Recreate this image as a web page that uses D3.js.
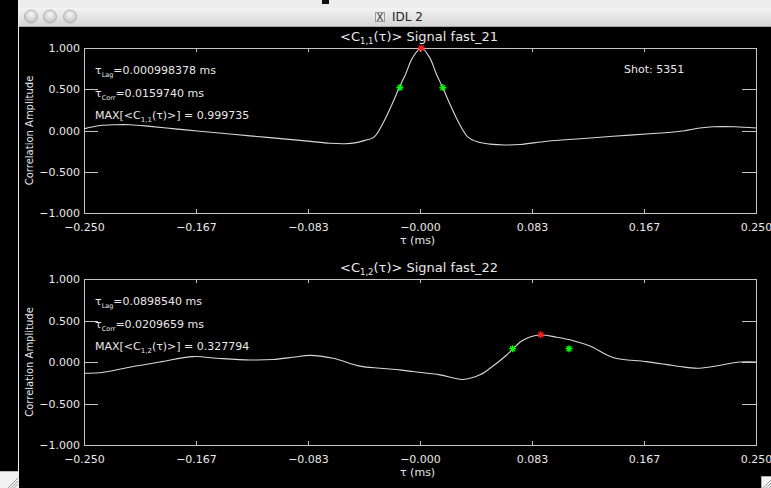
<!DOCTYPE html>
<html><head><meta charset="utf-8">
<script src="https://cdn.jsdelivr.net/npm/d3@7"></script>
<style>
html,body{margin:0;padding:0;background:#000;overflow:hidden}
svg{display:block}
text{font-family:"DejaVu Sans",sans-serif}
</style></head><body>
<svg id="c" width="771" height="488"></svg>
<script>
// ---------- data ----------
const tauTop = [-0.2500,-0.2381,-0.2269,-0.2158,-0.2009,-0.1823,-0.1637,-0.1265,-0.0893,-0.0670,
  -0.0558,-0.0484,-0.0409,-0.0342,-0.0275,-0.0216,-0.0154,-0.0104,-0.0056,0.0010,
  0.0073,0.0119,0.0169,0.0231,0.0290,0.0357,0.0432,0.0521,0.0632,0.0744,
  0.0945,0.1190,0.1436,0.1711,0.1935,0.2083,0.2180,0.2344,0.2500];
const corrTop = [0.02,0.06,0.07,0.07,0.05,0.02,-0.01,-0.065,-0.12,-0.155,
  -0.16,-0.15,-0.12,-0.08,0.09,0.29,0.52,0.695,0.88,1.0,
  0.88,0.695,0.52,0.29,0.09,-0.08,-0.14,-0.165,-0.175,-0.17,
  -0.13,-0.10,-0.07,-0.04,-0.01,0.03,0.045,0.045,0.03];
const tauBot = [-0.2500,-0.2381,-0.2135,-0.1935,-0.1689,-0.1510,-0.1265,-0.1094,-0.0930,-0.0818,
  -0.0647,-0.0446,-0.0298,-0.0149,-0.0052,0.0149,0.0320,0.0446,0.0521,0.0645,
  0.0690,0.0769,0.0893,0.1017,0.1141,0.1265,0.1436,0.1687,0.1935,0.2059,
  0.2180,0.2381,0.2500];
const corrBot = [-0.135,-0.13,-0.055,0.0,0.065,0.045,0.025,0.03,0.06,0.08,
  0.045,-0.05,-0.075,-0.095,-0.115,-0.155,-0.21,-0.155,-0.076,0.084,
  0.157,0.265,0.325,0.298,0.257,0.193,0.055,0.005,-0.055,-0.075,
  -0.055,0.0,0.0];
const xTickValues = [-0.25,-1/6,-1/12,0,1/12,1/6,0.25];
const xTickLabels = ["\u22120.250","\u22120.167","\u22120.083","\u22120.000","0.083","0.167","0.250"];
const yTickValues = [-1,-0.5,0,0.5,1];
const yTickLabels = ["\u22121.000","\u22120.500","0.000","0.500","1.000"];
const lagTimes = [0.000998378, 0.0898540];
const lagTexts = ["0.000998378","0.0898540"];
const corrTimes = [0.0159740, 0.0209659];
const corrTexts = ["0.0159740","0.0209659"];
const maxValues = [0.999735, 0.327794];
const maxTexts = ["0.999735","0.327794"];
const halfLevels = [0.52, 0.16];
const channelIdx = ["1,1","1,2"];
const signalNames = ["fast_21","fast_22"];
const shotLabel = "Shot: 5351";
const windowTitle = "IDL 2";

// ---------- drawing ----------
const W = 771, H = 488;
const svg = d3.select("#c");
const AX = "#c4c4c4", TX = "#e8e8e8";
svg.append("rect").attr("width",W).attr("height",H).attr("fill","#000");

// window chrome
const defs = svg.append("defs");
const tb = defs.append("linearGradient").attr("id","tb").attr("x1",0).attr("y1",0).attr("x2",0).attr("y2",1);
tb.append("stop").attr("offset","0%").attr("stop-color","#f3f3f3");
tb.append("stop").attr("offset","100%").attr("stop-color","#d4d4d4");
const bt = defs.append("radialGradient").attr("id","bt").attr("cx","50%").attr("cy","35%").attr("r","60%");
bt.append("stop").attr("offset","0%").attr("stop-color","#f6f6f6");
bt.append("stop").attr("offset","100%").attr("stop-color","#c4c4c4");
svg.append("rect").attr("x",19).attr("y",0).attr("width",W-19).attr("height",9).attr("fill","#ededed");
svg.append("rect").attr("x",322).attr("y",0).attr("width",7).attr("height",4).attr("fill","#111");
svg.append("rect").attr("x",19).attr("y",8).attr("width",W-19).attr("height",19).attr("fill","url(#tb)");
svg.append("line").attr("x1",19).attr("x2",W).attr("y1",26.5).attr("y2",26.5).attr("stroke","#a8a8a8");
[31,50,70].forEach(cx=>{
  svg.append("circle").attr("cx",cx).attr("cy",16.5).attr("r",6.5)
    .attr("fill","url(#bt)").attr("stroke","#a4a4a4").attr("stroke-width",0.8);
});
svg.append("rect").attr("x",375.5).attr("y",12.5).attr("width",9).attr("height",9)
  .attr("fill","#e8e8e8").attr("stroke","#999");
svg.append("text").attr("x",380).attr("y",20.5).attr("text-anchor","middle")
  .attr("font-size",10).attr("fill","#333").attr("font-family","Liberation Serif, serif").text("X");
svg.append("text").attr("x",392).attr("y",21).attr("font-size",12).attr("fill","#222").text(windowTitle);
svg.append("line").attr("x1",18.5).attr("x2",18.5).attr("y1",0).attr("y2",H).attr("stroke","#f0f0f0");
svg.append("rect").attr("x",0).attr("y",471).attr("width",18).attr("height",17).attr("fill","#f2f2f2");
svg.append("line").attr("x1",0).attr("x2",18).attr("y1",471.5).attr("y2",471.5).attr("stroke","#bbb");
[0,3,6].forEach(d=>{
  svg.append("line").attr("x1",8+d).attr("y1",488).attr("x2",18).attr("y2",478+d).attr("stroke","#999");
});
svg.append("rect").attr("x",761.5).attr("y",476.5).attr("width",10).attr("height",12)
  .attr("fill","#f4f4f4").attr("stroke","#aaa");
[0,3,6].forEach(d=>{
  svg.append("line").attr("x1",763+d).attr("y1",488).attr("x2",771).attr("y2",480+d).attr("stroke","#999");
});

// panels
const panels = [
  {top:48, bottom:213, tau:tauTop, c:corrTop, i:0},
  {top:279, bottom:445, tau:tauBot, c:corrBot, i:1}
];
const left = 84, right = 756;

function star(g, x, y, col){
  const r = 3.5;
  const p = d3.path();
  for (let k=0;k<4;k++){
    const a = k*Math.PI/4;
    p.moveTo(x - r*Math.cos(a), y - r*Math.sin(a));
    p.lineTo(x + r*Math.cos(a), y + r*Math.sin(a));
  }
  g.append("path").attr("d",p.toString()).attr("stroke",col).attr("stroke-width",1.3).attr("fill","none");
}

function subText(sel, parts){
  parts.forEach(pt=>{
    const t = sel.append("tspan").text(pt.t);
    if (pt.sub){ t.attr("font-size",pt.fs||8).attr("dy",pt.dy); }
    else if (pt.dy){ t.attr("dy",pt.dy); }
  });
}

panels.forEach(P=>{
  const i = P.i;
  const x = d3.scaleLinear().domain([-0.25,0.25]).range([left,right]);
  const y = d3.scaleLinear().domain([-1,1]).range([P.bottom,P.top]);
  const g = svg.append("g");

  const styleAxis = a => { a.selectAll("path,line").attr("stroke",AX).attr("shape-rendering","crispEdges"); };

  const ab = g.append("g").attr("transform",`translate(0,${P.bottom})`)
    .call(d3.axisBottom(x).tickValues(xTickValues).tickFormat((d,k)=>xTickLabels[k]).tickSizeInner(-4).tickSizeOuter(0).tickPadding(10));
  const at = g.append("g").attr("transform",`translate(0,${P.top})`)
    .call(d3.axisTop(x).tickValues(xTickValues).tickFormat("").tickSizeInner(-4).tickSizeOuter(0));
  const al = g.append("g").attr("transform",`translate(${left},0)`)
    .call(d3.axisLeft(y).tickValues(yTickValues).tickFormat((d,k)=>yTickLabels[k]).tickSizeInner(-14).tickSizeOuter(0).tickPadding(4));
  const ar = g.append("g").attr("transform",`translate(${right},0)`)
    .call(d3.axisRight(y).tickValues(yTickValues).tickFormat("").tickSizeInner(-14).tickSizeOuter(0));
  [ab,at,al,ar].forEach(a=>{ styleAxis(a); a.select(".domain").attr("stroke",AX); });
  [ab,al].forEach(a=>a.selectAll("text").attr("fill",TX).attr("font-size",11).attr("font-family","DejaVu Sans, sans-serif"));
  ab.selectAll("text").attr("dy","0.32em").attr("y",14);
  al.selectAll("text").attr("x",-4);

  // curve
  const line = d3.line().x((d,k)=>x(P.tau[k])).y(d=>y(d)).curve(d3.curveCatmullRom.alpha(0.5));
  g.append("path").datum(P.c).attr("d",line).attr("fill","none").attr("stroke","#d8d8d8").attr("stroke-width",1.1);

  // markers
  star(g, x(lagTimes[i]-corrTimes[i]), y(halfLevels[i]), "#00ff00");
  star(g, x(lagTimes[i]+corrTimes[i]), y(halfLevels[i]), "#00ff00");
  star(g, x(lagTimes[i]), y(maxValues[i]), "#ff1a1a");

  const off = P.top - 48;
  // title
  const title = g.append("text").attr("x",419).attr("y",41+off).attr("text-anchor","middle")
    .attr("font-size",13).attr("fill",TX);
  subText(title,[{t:"<C"},{t:channelIdx[i],sub:true,fs:8.5,dy:3},{t:"(\u03c4)> Signal "+signalNames[i],dy:-3}]);

  // annotations
  const a1 = g.append("text").attr("x",95).attr("y",74+off).attr("font-size",11).attr("fill",TX);
  subText(a1,[{t:"\u03c4"},{t:"Lag",sub:true,fs:6.5,dy:2.5},{t:"=" + lagTexts[i] + " ms",dy:-2.5}]);
  const a2 = g.append("text").attr("x",95).attr("y",97+off).attr("font-size",11).attr("fill",TX);
  subText(a2,[{t:"\u03c4"},{t:"Corr",sub:true,fs:6.5,dy:2.5},{t:"=" + corrTexts[i] + " ms",dy:-2.5}]);
  const a3 = g.append("text").attr("x",95).attr("y",119+off).attr("font-size",11).attr("fill",TX);
  subText(a3,[{t:"MAX[<C"},{t:channelIdx[i],sub:true,fs:7,dy:2.5},{t:"(\u03c4)>] = " + maxTexts[i],dy:-2.5}]);
  if (i===0){
    g.append("text").attr("x",624).attr("y",73).attr("font-size",11).attr("fill",TX).text(shotLabel);
  }

  // axis titles
  g.append("text").attr("transform",`translate(32.5,${(P.top+P.bottom)/2}) rotate(-90)`)
    .attr("text-anchor","middle").attr("font-size",10).attr("fill",TX).text("Correlation Amplitude");
  g.append("text").attr("x",400).attr("y",P.bottom+31).attr("font-size",11).attr("fill",TX).text("\u03c4 (ms)");
});
</script>
</body></html>
